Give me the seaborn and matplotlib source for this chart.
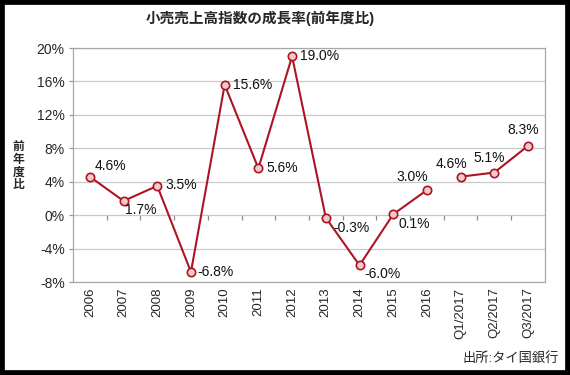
import matplotlib
matplotlib.use("Agg")
import matplotlib.pyplot as plt
import seaborn as sns
import pandas as pd
from matplotlib.patches import Rectangle

sns.set_style("white")
plt.rcParams["font.family"] = ["Liberation Sans", "Noto Sans CJK JP"]

# data
years = ["2006", "2007", "2008", "2009", "2010", "2011", "2012",
         "2013", "2014", "2015", "2016"]
year_growth = [4.6, 1.7, 3.5, -6.8, 15.6, 5.6, 19.0, -0.3, -6.0, 0.1, 3.0]
quarters = ["Q1/2017", "Q2/2017", "Q3/2017"]
quarter_growth = [4.6, 5.1, 8.3]

# label offsets in pixels (dx, dy, ha)
year_offsets = [(5, 11, "left"), (1, -9, "left"), (8, 1, "left"), (6, 0, "left"),
                (8, 0, "left"), (8, 0, "left"), (8, 0, "left"), (8, -10, "left"),
                (5, -9, "left"), (5, -10, "left"), (-15, 13, "center")]
quarter_offsets = [(-9, 13, "center"), (-5, 15, "center"), (-5, 16, "center")]

line_color = "#ad1424"
marker_face = "#f3c9c9"

df_year = pd.DataFrame({"period": years, "growth": year_growth})
df_q = pd.DataFrame({"period": quarters, "growth": quarter_growth})

fig = plt.figure(figsize=(5.7, 3.75), dpi=100)
ax = fig.add_axes([0.128, 0.248, 0.828, 0.624])

for d in (df_year, df_q):
    sns.lineplot(data=d, x="period", y="growth", ax=ax, color=line_color,
                 linewidth=1.5, marker="o", markersize=6,
                 markerfacecolor=marker_face, markeredgecolor=line_color,
                 markeredgewidth=1.2, sort=False, zorder=3)

px = 0.72
for d, offs in ((df_year, year_offsets), (df_q, quarter_offsets)):
    for (_, row), (dx, dy, ha) in zip(d.iterrows(), offs):
        ax.annotate(f"{row['growth']:.1f}%", (row["period"], row["growth"]),
                    xytext=(dx * px, dy * px), textcoords="offset points",
                    ha=ha, va="center", fontsize=10, color="#111111")

n = len(years) + len(quarters)
ax.set_xlim(-0.5, n - 0.5)
ax.set_ylim(-8, 20)
ax.set_yticks(range(-8, 21, 4))
ax.set_yticklabels([f"{v}%" for v in range(-8, 21, 4)], fontsize=10)
ax.tick_params(axis="x", labelrotation=90, labelsize=9.5, length=0, pad=4)
ax.tick_params(axis="y", left=True, length=3, width=0.9, color="#999999", pad=3)
ax.set_xlabel("")
ax.set_ylabel("")
ax.yaxis.grid(True, color="#c8c8c8", linewidth=0.9)
ax.set_axisbelow(True)
for s in ax.spines.values():
    s.set_color("#a8a8a8")
    s.set_linewidth(0.9)

# small category ticks on the zero line
ax2 = ax.twiny()
ax2.set_xlim(-0.5, n - 0.5)
ax2.xaxis.set_ticks_position("bottom")
ax2.spines["bottom"].set_position(("data", 0))
for s in ax2.spines.values():
    s.set_visible(False)
ax2.set_xticks([i + 0.5 for i in range(n - 1)])
ax2.set_xticklabels([])
ax2.tick_params(axis="x", bottom=True, top=False, length=3.5, width=0.9,
                color="#8c8c8c", direction="out")
ax2.set_zorder(0)
ax.set_zorder(1)
ax.patch.set_visible(False)

fig.text(0.456, 0.952, "小売売上高指数の成長率(前年度比)", ha="center", va="center",
         fontsize=10.5, fontweight="bold")
fig.text(0.032, 0.557, "前\n年\n度\n比", ha="center", va="center",
         fontsize=8.5, fontweight="bold", linespacing=1.05)
fig.text(0.981, 0.043, "出所:タイ国銀行", ha="right", va="center", fontsize=9.5)

fig.patches.append(Rectangle((0, 0), 1, 1, transform=fig.transFigure,
                             fill=False, edgecolor="black", linewidth=7))

fig.savefig("out.png", dpi=100)
